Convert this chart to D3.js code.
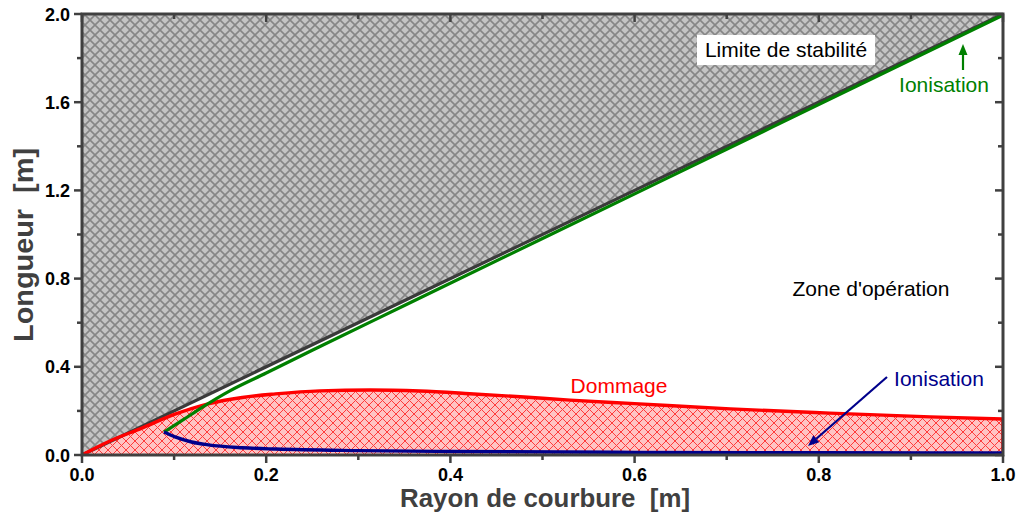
<!DOCTYPE html>
<html>
<head>
<meta charset="utf-8">
<script src="https://cdn.jsdelivr.net/npm/d3@7"></script>
<style>
  html, body { margin: 0; padding: 0; background: #fff; }
  svg { display: block; font-family: "Liberation Sans", Arial, sans-serif; }
</style>
</head>
<body>
<svg id="chart" width="1018" height="516"></svg>
<script>
// Stability limit: L = 2R
const stabilityR = [0, 1.0];
const stabilityL = [0, 2.0];

// Damage boundary (Dommage)
const damageR = [0, 0.028, 0.065, 0.101, 0.137, 0.174, 0.21, 0.258, 0.313, 0.367, 0.421, 0.476, 0.53, 0.6, 0.704, 0.812, 0.921, 1.0];
const damageL = [0, 0.059, 0.122, 0.185, 0.232, 0.261, 0.277, 0.291, 0.295, 0.29, 0.278, 0.264, 0.249, 0.233, 0.209, 0.19, 0.173, 0.163];

// Ionisation, upper branch
const ionUpR = [0.089, 0.11, 0.13, 0.16, 0.2, 0.25, 0.35, 0.5, 0.75, 1.0];
const ionUpL = [0.104, 0.16, 0.215, 0.29, 0.372, 0.475, 0.678, 0.982, 1.488, 1.995];

// Ionisation, lower branch
const ionLowR = [0.089, 0.101, 0.119, 0.137, 0.174, 0.21, 0.3, 0.4, 0.6, 0.8, 1.0];
const ionLowL = [0.104, 0.082, 0.059, 0.046, 0.033, 0.027, 0.02, 0.016, 0.012, 0.01, 0.009];

const xMajor = [0, 0.2, 0.4, 0.6, 0.8, 1.0];
const xMinor = [0.1, 0.3, 0.5, 0.7, 0.9];
const yMajor = [0, 0.4, 0.8, 1.2, 1.6, 2.0];
const yMinor = [0.2, 0.6, 1.0, 1.4, 1.8];

const svg = d3.select("#chart");
const mLeft = 82, mRight = 1003, mTop = 14, mBottom = 455;
const x = d3.scaleLinear().domain([0, 1]).range([mLeft, mRight]);
const y = d3.scaleLinear().domain([0, 2]).range([mBottom, mTop]);
const frameColor = "#404040";

// Cross-hatch patterns
const defs = svg.append("defs");
function hatch(id, bg, stroke, size, sw) {
  const p = defs.append("pattern").attr("id", id)
    .attr("patternUnits", "userSpaceOnUse")
    .attr("width", size).attr("height", size);
  p.append("rect").attr("width", size).attr("height", size).attr("fill", bg);
  p.append("path")
    .attr("d", `M0,0L${size},${size}M${size},0L0,${size}`)
    .attr("stroke", stroke).attr("stroke-width", sw).attr("fill", "none");
}
hatch("grayHatch", "#c4c4c4", "#868686", 10, 1.6);
hatch("redHatch", "#ffc4c4", "#ff3c3c", 9, 1);

defs.append("clipPath").attr("id", "plotClip")
  .append("rect").attr("x", mLeft).attr("y", mTop).attr("width", mRight - mLeft).attr("height", mBottom - mTop);

const plot = svg.append("g").attr("clip-path", "url(#plotClip)");

// Unstable region above the stability limit
const stabPts = stabilityR.map((r, i) => [r, stabilityL[i]]);
plot.append("path")
  .attr("d", d3.line().x(d => x(d[0])).y(d => y(d[1]))([...stabPts, [0, 2], [0, 0]]))
  .attr("fill", "url(#grayHatch)");

// Damage region
const dmgPts = damageR.map((r, i) => [r, damageL[i]]);
const smooth = d3.line().x(d => x(d[0])).y(d => y(d[1])).curve(d3.curveMonotoneX);
plot.append("path")
  .attr("d", smooth(dmgPts) + `L${x(1)},${y(0)}L${x(0)},${y(0)}Z`)
  .attr("fill", "url(#redHatch)");

// Stability line
plot.append("path")
  .attr("d", d3.line().x(d => x(d[0])).y(d => y(d[1]))(stabPts))
  .attr("stroke", "#3a3a3a").attr("stroke-width", 3.2).attr("fill", "none");

// Damage outline (curve and right edge)
plot.append("path")
  .attr("d", smooth(dmgPts) + `L${x(1)},${y(0)}`)
  .attr("stroke", "#ff0000").attr("stroke-width", 3.4).attr("fill", "none");

// Ionisation upper branch
const upPts = ionUpR.map((r, i) => [r, ionUpL[i]]);
plot.append("path")
  .attr("d", d3.line().x(d => x(d[0])).y(d => y(d[1])).curve(d3.curveMonotoneX)(upPts))
  .attr("stroke", "#008000").attr("stroke-width", 3.2).attr("fill", "none");

// Ionisation lower branch
const lowPts = ionLowR.map((r, i) => [r, ionLowL[i]]);
plot.append("path")
  .attr("d", d3.line().x(d => x(d[0])).y(d => y(d[1])).curve(d3.curveMonotoneX)(lowPts))
  .attr("stroke", "#00008b").attr("stroke-width", 3.4).attr("fill", "none");

// Frame
svg.append("rect").attr("x", mLeft).attr("y", mTop)
  .attr("width", mRight - mLeft).attr("height", mBottom - mTop)
  .attr("fill", "none").attr("stroke", frameColor).attr("stroke-width", 3);

// Ticks: outward on bottom/left, inward on top/right
const tickG = svg.append("g").attr("stroke", frameColor).attr("stroke-width", 2.5);
function xticks(vals, len) {
  vals.forEach(v => {
    tickG.append("line").attr("x1", x(v)).attr("x2", x(v)).attr("y1", mBottom).attr("y2", mBottom + len);
    tickG.append("line").attr("x1", x(v)).attr("x2", x(v)).attr("y1", mTop).attr("y2", mTop + len);
  });
}
function yticks(vals, len) {
  vals.forEach(v => {
    tickG.append("line").attr("y1", y(v)).attr("y2", y(v)).attr("x1", mLeft).attr("x2", mLeft - len);
    tickG.append("line").attr("y1", y(v)).attr("y2", y(v)).attr("x1", mRight).attr("x2", mRight - len);
  });
}
xticks(xMajor, 8); xticks(xMinor, 5);
yticks(yMajor, 8); yticks(yMinor, 5);

// Tick labels
const fmt = d3.format(".1f");
svg.append("g").selectAll("text").data(xMajor).join("text")
  .attr("x", d => x(d)).attr("y", 481)
  .attr("text-anchor", "middle").attr("font-size", 18).attr("font-weight", "bold")
  .attr("fill", "#000").text(fmt);
svg.append("g").selectAll("text").data(yMajor).join("text")
  .attr("x", 70).attr("y", d => y(d) + 6.5)
  .attr("text-anchor", "end").attr("font-size", 18).attr("font-weight", "bold")
  .attr("fill", "#000").text(fmt);

// Axis titles
svg.append("text").attr("x", 545).attr("y", 507)
  .attr("text-anchor", "middle").attr("font-size", 26).attr("font-weight", "bold")
  .attr("fill", frameColor).attr("xml:space", "preserve")
  .attr("textLength", 290).attr("lengthAdjust", "spacingAndGlyphs")
  .text("Rayon de courbure  [m]");
svg.append("text").attr("transform", "translate(33,245) rotate(-90)")
  .attr("text-anchor", "middle").attr("font-size", 28).attr("font-weight", "bold")
  .attr("fill", frameColor).attr("xml:space", "preserve")
  .attr("textLength", 194).attr("lengthAdjust", "spacingAndGlyphs")
  .text("Longueur  [m]");

// Annotations
svg.append("rect").attr("x", 697).attr("y", 35).attr("width", 178).attr("height", 30).attr("fill", "#fff");
svg.append("text").attr("x", 786).attr("y", 57).attr("text-anchor", "middle")
  .attr("font-size", 21).attr("fill", "#000").text("Limite de stabilité");

svg.append("text").attr("x", 944).attr("y", 92).attr("text-anchor", "middle")
  .attr("font-size", 21).attr("fill", "#008000").text("Ionisation");
svg.append("text").attr("x", 871).attr("y", 296).attr("text-anchor", "middle")
  .attr("font-size", 21).attr("fill", "#000").text("Zone d'opération");
svg.append("text").attr("x", 619).attr("y", 393).attr("text-anchor", "middle")
  .attr("font-size", 21).attr("fill", "#ff0000").text("Dommage");
svg.append("text").attr("x", 939).attr("y", 386).attr("text-anchor", "middle")
  .attr("font-size", 21).attr("fill", "#00008b").text("Ionisation");

// Arrows
function arrow(x1, y1, x2, y2, color) {
  const ang = Math.atan2(y2 - y1, x2 - x1);
  const hl = 11, hw = 4.5;
  const bx = x2 - hl * Math.cos(ang), by = y2 - hl * Math.sin(ang);
  svg.append("line").attr("x1", x1).attr("y1", y1).attr("x2", bx).attr("y2", by)
    .attr("stroke", color).attr("stroke-width", 2.2);
  const px = -Math.sin(ang) * hw, py = Math.cos(ang) * hw;
  svg.append("path")
    .attr("d", `M${x2},${y2}L${bx + px},${by + py}L${bx - px},${by - py}Z`)
    .attr("fill", color);
}
arrow(963, 70, 963, 44, "#008000");
arrow(887, 377, 808, 446, "#00008b");
</script>
</body>
</html>
